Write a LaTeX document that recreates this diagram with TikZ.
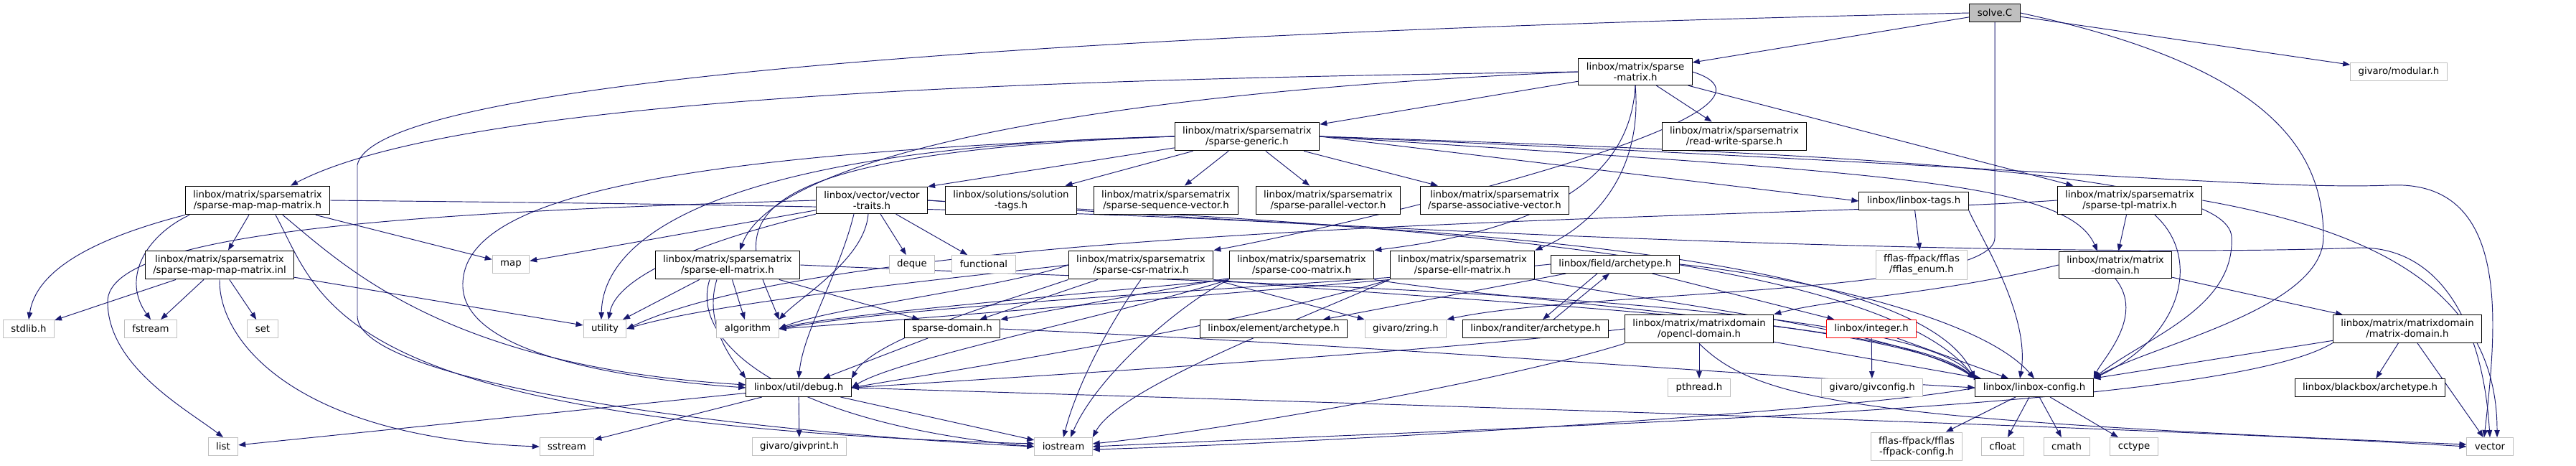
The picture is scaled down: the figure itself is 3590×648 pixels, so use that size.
\documentclass[tikz,border=0pt]{standalone}
\usepackage{fontspec}
\setmainfont{DejaVu Sans}
\usetikzlibrary{arrows.meta,backgrounds}

\definecolor{edgeblue}{HTML}{191970}
\definecolor{extgray}{HTML}{BFBFBF}

\begin{document}
\begin{tikzpicture}[
    x=1pt, y=-1pt,
    every node/.style={font=\fontsize{13.3}{15}\selectfont},
    filebox/.style={
      rectangle, draw, line width=1pt, fill=white,
      inner xsep=11pt, inner ysep=6pt, minimum height=25pt, align=center
    },
    docfile/.style={filebox, draw=black},
    extfile/.style={filebox, draw=extgray},
    mainfile/.style={filebox, draw=black, fill=extgray},
    missfile/.style={filebox, draw=red},
    incl/.style={-{Stealth[length=10pt,width=7.5pt,inset=0pt]}, line width=0.95pt, edgeblue}
  ]
    \useasboundingbox (0,0) rectangle (3590,648);

    % Top rows
    \node[mainfile] (solve) at (2780,18) {solve.C};
    \node[extfile] (modular) at (3343,100) {givaro/modular.h};
    \node[docfile] (spmat) at (2279,100) {linbox/matrix/sparse\\-matrix.h};
    \node[docfile] (rws) at (2417,190) {linbox/matrix/sparsematrix\\/read-write-sparse.h};
    \node[docfile] (spgen) at (1738,190) {linbox/matrix/sparsematrix\\/sparse-generic.h};
    \node[docfile] (mapmap) at (359,279) {linbox/matrix/sparsematrix\\/sparse-map-map-matrix.h};
    \node[docfile] (vtraits) at (1215,279) {linbox/vector/vector\\-traits.h};
    \node[docfile] (soltags) at (1409,279) {linbox/solutions/solution\\-tags.h};
    \node[docfile] (seqvec) at (1625,279) {linbox/matrix/sparsematrix\\/sparse-sequence-vector.h};
    \node[docfile] (parvec) at (1851,279) {linbox/matrix/sparsematrix\\/sparse-parallel-vector.h};
    \node[docfile] (assocvec) at (2083,279) {linbox/matrix/sparsematrix\\/sparse-associative-vector.h};
    \node[docfile] (tags) at (2667,280) {linbox/linbox-tags.h};
    \node[docfile] (tpl) at (2968,279) {linbox/matrix/sparsematrix\\/sparse-tpl-matrix.h};

    % Middle row
    \node[docfile] (inl) at (306,369) {linbox/matrix/sparsematrix\\/sparse-map-map-matrix.inl};
    \node[extfile] (map) at (712,368) {map};
    \node[docfile] (ell) at (1014,369) {linbox/matrix/sparsematrix\\/sparse-ell-matrix.h};
    \node[extfile] (deque) at (1271,368) {deque};
    \node[extfile] (functional) at (1371,368) {functional};
    \node[docfile] (csr) at (1590,369) {linbox/matrix/sparsematrix\\/sparse-csr-matrix.h};
    \node[docfile] (coo) at (1814,369) {linbox/matrix/sparsematrix\\/sparse-coo-matrix.h};
    \node[docfile] (ellr) at (2038,369) {linbox/matrix/sparsematrix\\/sparse-ellr-matrix.h};
    \node[docfile] (farch) at (2251,368) {linbox/field/archetype.h};
    \node[extfile] (fflasenum) at (2678,369) {fflas-ffpack/fflas\\/fflas\_enum.h};
    \node[docfile] (mdom) at (2948,369) {linbox/matrix/matrix\\-domain.h};

    \node[extfile] (stdlib) at (40,458) {stdlib.h};
    \node[extfile] (fstream) at (210,458) {fstream};
    \node[extfile] (set) at (366,458) {set};
    \node[extfile] (utility) at (843,458) {utility};
    \node[extfile] (algorithm) at (1042,458) {algorithm};
    \node[docfile] (spdom) at (1327,458) {sparse-domain.h};
    \node[docfile] (earch) at (1775,458) {linbox/element/archetype.h};
    \node[extfile] (zring) at (1959,458) {givaro/zring.h};
    \node[docfile] (rarch) at (2140,458) {linbox/randiter/archetype.h};
    \node[docfile] (opencl) at (2368,458) {linbox/matrix/matrixdomain\\/opencl-domain.h};
    \node[missfile] (integer) at (2608,458) {linbox/integer.h};
    \node[docfile] (mdom2) at (3355,458) {linbox/matrix/matrixdomain\\/matrix-domain.h};

    % Bottom rows
    \node[docfile] (debug) at (1113,540) {linbox/util/debug.h};
    \node[extfile] (pthread) at (2368,540) {pthread.h};
    \node[extfile] (givconfig) at (2609,540) {givaro/givconfig.h};
    \node[docfile] (config) at (2835,540) {linbox/linbox-config.h};
    \node[docfile] (bbarch) at (3303,540) {linbox/blackbox/archetype.h};

    \node[extfile] (list) at (311,622) {list};
    \node[extfile] (sstream) at (790,622) {sstream};
    \node[extfile] (givprint) at (1114,622) {givaro/givprint.h};
    \node[extfile] (iostream) at (1482,622) {iostream};
    \node[extfile] (fflasconfig) at (2671,622) {fflas-ffpack/fflas\\-ffpack-config.h};
    \node[extfile] (cfloat) at (2791,622) {cfloat};
    \node[extfile] (cmath) at (2880,622) {cmath};
    \node[extfile] (cctype) at (2974,622) {cctype};
    \node[extfile] (vector) at (3470,622) {vector};

    \begin{scope}[on background layer]
    \fill[white] (0,0) rectangle (3590,648);

    % solve.C
    \draw[incl] (solve) -- (spmat);
    \draw[incl] (solve) -- (modular);
    \draw[incl] (solve.west) .. controls (1500,45) and (520,110) .. (498,230) -- (498,440) .. controls (498,530) and (1000,600) .. (iostream.west);
    \draw[incl] (solve.south) -- ([yshift=-300pt]solve.south) .. controls (2781,410) and (2200,405) .. (zring.north east);
    \draw[incl] (solve.east) .. controls (3150,90) and (3238,200) .. (3238,330) .. controls (3238,430) and (3000,480) .. (config.north east);

    % sparse-matrix.h
    \draw[incl] (spmat) -- (spgen);
    \draw[incl] (spmat) -- (rws);
    \draw[incl] (spmat) -- (tpl);
    \draw[incl] (spmat.west) .. controls (1500,110) and (650,130) .. ([xshift=46pt]mapmap.north);
    \draw[incl] (spmat.west) .. controls (1500,130) and (1080,220) .. ([xshift=17pt]ell.north);
    \draw[incl] (spmat.east) .. controls (2550,160) and (1850,320) .. (csr.north east);
    \draw[incl] (spmat.south) .. controls (2272,250) and (2150,320) .. (coo.north east);
    \draw[incl] (spmat.south) .. controls (2290,250) and (2210,320) .. (ellr.north east);

    % sparse-generic.h
    \draw[incl] (spgen) -- (vtraits.north east);
    \draw[incl] (spgen) -- (soltags);
    \draw[incl] (spgen) -- (seqvec);
    \draw[incl] (spgen) -- (parvec);
    \draw[incl] (spgen) -- (assocvec);
    \draw[incl] (spgen.east) -- (tags.west);
    \draw[incl] (spgen.west) .. controls (1000,205) and (840,330) .. ([xshift=-5pt]utility.north);
    \draw[incl] (spgen.west) .. controls (950,215) and (1040,330) .. (algorithm.north east);
    \draw[incl] (spgen.west) .. controls (900,215) and (640,280) .. (645,400) .. controls (650,500) and (900,530) .. (debug.west);
    \draw[incl] (spgen.east) .. controls (2600,215) and (3105,240) .. (3110,330) .. controls (3115,430) and (2990,470) .. (config.north east);
    \draw[incl] (spgen.east) .. controls (2800,230) and (3150,265) .. (3330,258) .. controls (3500,250) and (3480,450) .. ([xshift=-8pt]vector.north);
    \draw[incl] (spgen.east) .. controls (2600,240) and (2880,250) .. ([xshift=-25pt]mdom.north);

    % sparse-map-map-matrix.h and .inl
    \draw[incl] (mapmap) -- (inl);
    \draw[incl] (mapmap) -- (map);
    \draw[incl] (mapmap.south west) .. controls (120,335) and (50,380) .. (stdlib.north);
    \draw[incl] ([xshift=-95pt]mapmap.south) .. controls (200,330) and (170,390) .. (fstream.north);
    \draw[incl] ([xshift=35pt]mapmap.south) .. controls (480,370) and (620,510) .. ([yshift=4pt]debug.west);
    \draw[incl] ([xshift=25pt]mapmap.south) .. controls (450,420) and (460,590) .. ([yshift=4pt]iostream.west);
    \draw[incl] (mapmap.east) .. controls (1500,290) and (2650,300) .. (config.north west);
    \draw[incl] (inl) -- (stdlib);
    \draw[incl] (inl) -- (fstream);
    \draw[incl] (inl) -- (set);
    \draw[incl] (inl) -- (utility);
    \draw[incl] (inl.south) .. controls (305,480) and (420,610) .. (sstream.west);

    % vector-traits.h
    \draw[incl] (vtraits) -- (deque);
    \draw[incl] (vtraits) -- (functional);
    \draw[incl] (vtraits) -- (map);
    \draw[incl] (vtraits.west) .. controls (600,295) and (150,320) .. (150,420) .. controls (150,510) and (260,570) .. (list.north);
    \draw[incl] ([xshift=-5pt]vtraits.south) .. controls (1205,360) and (1120,410) .. (algorithm.north east);
    \draw[incl] (vtraits.south west) .. controls (1000,330) and (860,380) .. ([xshift=5pt]utility.north);
    \draw[incl] ([xshift=-25pt]vtraits.south) .. controls (1170,380) and (1120,460) .. (debug.north);
    \draw[incl] (vtraits.east) .. controls (1700,305) and (2600,330) .. (config.north west);
    \draw[incl] (vtraits.east) .. controls (2000,330) and (2900,360) .. (3290,345) .. controls (3400,345) and (3460,450) .. (vector.north);

    % sparse-ell-matrix.h
    \draw[incl] (ell) -- (utility);
    \draw[incl] (ell) -- (algorithm);
    \draw[incl] (ell) -- (spdom);
    \draw[incl] ([xshift=-15pt]ell.south) .. controls (980,450) and (1020,500) .. (debug.north west);
    \draw[incl] ([xshift=-25pt]ell.south) .. controls (960,480) and (1100,590) .. (iostream.west);
    \draw[incl] (ell.east) .. controls (1700,395) and (2650,410) .. (config.north west);

    % sparse-csr-matrix.h
    \draw[incl] (csr) -- (spdom);
    \draw[incl] (csr.west) .. controls (1400,400) and (1150,430) .. (algorithm.east);
    \draw[incl] (csr.west) .. controls (1350,385) and (1000,420) .. (utility.east);
    \draw[incl] (csr.south west) .. controls (1400,420) and (1220,470) .. (debug.north east);
    \draw[incl] (csr.south) .. controls (1540,460) and (1500,540) .. (iostream.north);
    \draw[incl] (csr.south east) -- (zring.north west);
    \draw[incl] (csr.south east) .. controls (2000,420) and (2650,440) .. (config.north west);

    % sparse-coo-matrix.h
    \draw[incl] (coo) -- (spdom.north east);
    \draw[incl] (coo.south west) .. controls (1500,410) and (1150,440) .. (algorithm.east);
    \draw[incl] (coo.south west) .. controls (1550,440) and (1250,500) .. (debug.east);
    \draw[incl] (coo.south west) .. controls (1650,420) and (1530,520) .. ([xshift=10pt]iostream.north);
    \draw[incl] (coo.south east) .. controls (2100,420) and (2650,450) .. (config.north west);

    % sparse-ellr-matrix.h
    \draw[incl] (ellr.south west) .. controls (1700,410) and (1200,450) .. (algorithm.east);
    \draw[incl] (ellr.south west) .. controls (1700,460) and (1300,520) .. (debug.east);
    \draw[incl] (ellr.south west) .. controls (1800,450) and (1560,540) .. (iostream.north east);
    \draw[incl] (ellr.south east) .. controls (2300,420) and (2650,460) .. (config.north west);

    % archetypes
    \draw[incl] (farch) -- (earch);
    \draw[incl] ([xshift=-25pt]farch.south) -- ([xshift=10pt]rarch.north);
    \draw[incl] ([xshift=25pt]rarch.north) -- ([xshift=-8pt]farch.south);
    \draw[incl] (farch) -- (integer);
    \draw[incl] (farch.west) .. controls (1900,395) and (1300,420) .. (algorithm.east);
    \draw[incl] (farch.east) .. controls (2500,385) and (2760,440) .. (config.north);

    % sparse-domain.h, opencl-domain.h, integer.h
    \draw[incl] (spdom) -- (debug);
    \draw[incl] (spdom.east) .. controls (1900,480) and (2400,520) .. (config.west);
    \draw[incl] (opencl) -- (pthread);
    \draw[incl] (opencl) -- (config);
    \draw[incl] (opencl.west) .. controls (2000,490) and (1500,520) .. (debug.east);
    \draw[incl] (opencl.south west) .. controls (2100,530) and (1700,600) .. ([yshift=4pt]iostream.east);
    \draw[incl] (opencl.south) .. controls (2450,560) and (2600,585) .. ([yshift=3pt]vector.west);
    \draw[incl] (integer) -- (givconfig);
    \draw[incl] (integer) -- (config);

    % linbox-tags.h, sparse-tpl-matrix.h
    \draw[incl] (tags) -- (fflasenum);
    \draw[incl] (tags.south east) .. controls (2760,330) and (2830,440) .. ([xshift=-20pt]config.north);
    \draw[incl] (tpl) -- (mdom);
    \draw[incl] ([xshift=35pt]tpl.south) .. controls (3070,360) and (3040,470) .. (config.north east);
    \draw[incl] (tpl.east) .. controls (3300,320) and (3480,400) .. ([xshift=10pt]vector.north);
    \draw[incl] (tpl.west) .. controls (2500,305) and (1200,305) .. (utility.east);

    % matrix domains
    \draw[incl] (mdom) -- (mdom2);
    \draw[incl] (mdom.south) .. controls (2990,440) and (2930,500) .. (config.north east);
    \draw[incl] (mdom.west) .. controls (2700,410) and (2560,415) .. (opencl.north east);
    \draw[incl] (mdom2) -- (bbarch);
    \draw[incl] (mdom2) -- (config);
    \draw[incl] (mdom2) -- (vector);
    \draw[incl] (mdom2.south west) .. controls (3100,570) and (2200,590) .. (iostream.east);

    % debug.h, linbox-config.h
    \draw[incl] (debug) -- (list);
    \draw[incl] (debug) -- (sstream);
    \draw[incl] (debug) -- (givprint);
    \draw[incl] (debug) -- (iostream);
    \draw[incl] (debug.east) .. controls (2000,565) and (3000,595) .. (vector.west);
    \draw[incl] (config) -- (fflasconfig);
    \draw[incl] (config) -- (cfloat);
    \draw[incl] (config) -- (cmath);
    \draw[incl] (config) -- (cctype);
    \draw[incl] (config.west) .. controls (2600,570) and (1900,615) .. ([yshift=-4pt]iostream.east);
    \end{scope}

  \end{tikzpicture}
\end{document}
